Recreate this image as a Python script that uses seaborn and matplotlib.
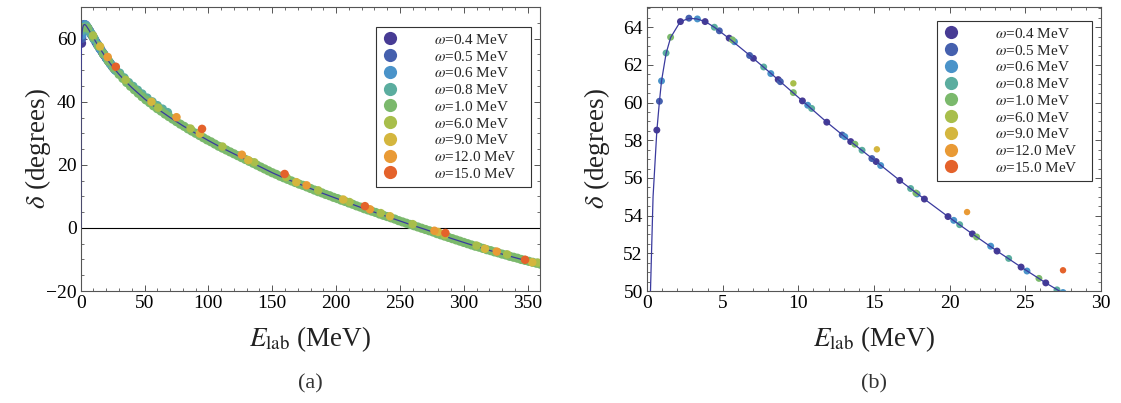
import numpy as np
import pandas as pd
import matplotlib
matplotlib.use("Agg")
import matplotlib.pyplot as plt
from matplotlib.lines import Line2D
from matplotlib.ticker import MultipleLocator
import seaborn as sns

# ---------------- data ----------------
curve_E = [0.0, 0.05, 0.1, 0.15, 0.23, 0.4, 0.65, 0.82, 0.96, 1.26, 1.56, 2.2, 2.8, 3.3,
           3.85, 4.45, 5.4, 6.8, 8.2, 10.27, 11.88, 13.46, 15.14, 16.7, 18.33, 19.89, 21.5,
           23.13, 24.72, 26.35, 27.5, 30, 35, 40, 50, 60, 70, 80, 90, 100, 110, 120, 130,
           140, 150, 160, 170, 180, 190, 200, 210, 220, 230, 240, 250, 260, 270, 280, 290,
           300, 310, 320, 330, 340, 350, 360]
curve_d = [0.0, 30.0, 38.0, 43.0, 50.0, 55.0, 58.5, 60.05, 61.15, 62.6, 63.45, 64.3, 64.47,
           64.44, 64.3, 64.0, 63.42, 62.5, 61.54, 60.09, 58.96, 57.93, 56.87, 55.87, 54.88,
           53.95, 53.03, 52.12, 51.27, 50.43, 49.88, 48.7, 46.5, 44.5, 40.9, 37.8, 35.0,
           32.4, 30.0, 27.7, 25.5, 23.5, 21.5, 19.5, 17.5, 15.7, 14.1, 12.5, 10.9, 9.4, 7.9,
           6.4, 5.0, 3.6, 2.2, 0.8, -0.5, -1.9, -3.3, -4.6, -5.9, -7.1, -8.3, -9.4, -10.5,
           -11.5]

w04_E = [0.65, 2.21, 3.84, 5.43, 7.03, 8.67, 10.27, 11.88, 13.46, 15.14, 16.7, 18.33,
         19.89, 21.5, 23.13, 24.72, 26.35]
w04_d = [58.54, 64.30, 64.30, 63.42, 62.35, 61.22, 60.09, 58.96, 57.93, 56.87, 55.87,
         54.88, 53.95, 53.03, 52.12, 51.27, 50.43]
w05_E = [0.82, 2.77, 4.78, 6.78, 8.81, 12.9, 14.86]
w05_d = [60.07, 64.48, 63.81, 62.50, 61.11, 58.28, 57.03]
w06_E = [0.96, 3.33, 5.78, 8.18, 10.62, 13.07, 15.44, 17.85, 20.27, 22.71, 25.11, 27.49]
w06_d = [61.15, 64.44, 63.23, 61.54, 59.86, 58.19, 56.66, 55.15, 53.75, 52.38, 51.06, 49.92]
w08_E = [1.26, 4.45, 7.71, 10.88, 14.21, 17.42, 20.66, 23.9, 27.09,
         30.5, 34.0, 37.5, 41.0, 44.5, 48.0, 52.0, 56.0, 60.0, 64.0, 68.0]
w08_d = [62.63, 64.0, 61.89, 59.69, 57.47, 55.44, 53.52, 51.73, 50.06,
         49.1, 47.6, 46.1, 44.9, 43.7, 42.5, 41.2, 40.0, 38.8, 37.7, 36.6]
w10_E = [1.56, 5.64, 9.67, 13.74, 17.77, 21.78, 25.9,
         30, 33, 36, 39, 42, 45, 48, 51, 54, 57, 60, 63, 66, 69, 72, 75, 78, 81, 84, 87,
         90, 93, 96, 99, 102, 105, 108, 111, 114, 117, 120, 123, 126, 129, 132, 135, 138,
         141, 144, 147, 150, 153, 156, 159, 162, 165, 168, 171, 174, 177, 180, 183, 186,
         189, 192, 195, 198, 201, 204, 207, 210, 213, 216, 219, 222, 225, 228, 231, 234,
         237, 240, 243, 246, 249, 252, 255, 258, 261, 264, 267, 270, 273, 276, 279, 282,
         285, 288, 291, 294, 297, 300, 303, 306, 309, 312, 315, 318, 321, 324, 327, 330,
         333, 336, 339, 342, 345, 348, 351, 354, 357, 360]
w10_d = [63.47, 63.33, 60.53, 57.79, 55.2, 52.87, 50.67,
         48.7, 47.4, 46.1, 44.9, 43.8, 42.7, 41.6, 40.6, 39.7, 38.7, 37.8, 37.0, 36.1,
         35.3, 34.5, 33.7, 32.9, 32.2, 31.4, 30.7, 30.0, 29.3, 28.6, 27.9, 27.3, 26.6,
         25.9, 25.3, 24.7, 24.1, 23.5, 22.9, 22.3, 21.7, 21.1, 20.5, 19.9, 19.3, 18.7,
         18.1, 17.5, 17.0, 16.4, 15.9, 15.4, 14.9, 14.4, 13.9, 13.5, 13.0, 12.5, 12.0,
         11.5, 11.1, 10.6, 10.2, 9.7, 9.3, 8.8, 8.4, 7.9, 7.5, 7.0, 6.6, 6.1, 5.7, 5.3,
         4.9, 4.4, 4.0, 3.6, 3.2, 2.8, 2.3, 1.9, 1.5, 1.1, 0.7, 0.3, -0.1, -0.5, -0.9,
         -1.3, -1.8, -2.2, -2.6, -3.0, -3.4, -3.8, -4.2, -4.6, -5.0, -5.4, -5.8, -6.1,
         -6.5, -6.9, -7.2, -7.6, -7.9, -8.3, -8.6, -9.0, -9.3, -9.6, -10.0, -10.3, -10.6,
         -10.9, -11.2, -11.5]
w60_E = [9.67, 35.2, 60.7, 86.0, 111.0, 136.0, 161.0, 186.0, 210.5, 235.0, 260.0, 285.0,
         310.0, 334.0, 358.0]
w60_d = [61.02, 46.9, 38.1, 31.5, 25.8, 20.8, 16.1, 11.9, 8.2, 4.7, 1.2, -2.3, -5.6,
         -8.4, -11.0]
w90_E = [15.19, 55.4, 93.3, 131.2, 168.9, 205.6, 242.2, 280.0, 316.6, 353.6]
w90_d = [57.52, 40.0, 29.9, 21.5, 14.5, 9.0, 3.7, -1.3, -6.6, -10.9]
w120_E = [21.15, 75.0, 126.2, 176.9, 226.5, 277.0, 325.8]
w120_d = [54.19, 35.1, 23.2, 13.5, 5.9, -0.9, -7.5]
w150_E = [27.49, 95.0, 159.7, 222.6, 285.6, 348.0]
w150_d = [51.1, 31.4, 17.1, 6.9, -1.6, -10.1]

omega_labels = ["0.4", "0.5", "0.6", "0.8", "1.0", "6.0", "9.0", "12.0", "15.0"]
series = [(w04_E, w04_d), (w05_E, w05_d), (w06_E, w06_d), (w08_E, w08_d), (w10_E, w10_d),
          (w60_E, w60_d), (w90_E, w90_d), (w120_E, w120_d), (w150_E, w150_d)]
colors = ["#473B94", "#4560AE", "#4A93C9", "#5BAD9F", "#7BB96C",
          "#A8BE4B", "#D4B63E", "#E99A35", "#E4622B"]
palette = dict(zip(omega_labels, colors))

frames = []
for lab, (E, d) in zip(omega_labels, series):
    frames.append(pd.DataFrame({"E": E, "delta": d, "omega": lab}))
df = pd.concat(frames, ignore_index=True)
curve = pd.DataFrame({"E": curve_E, "delta": curve_d})

low = ["0.4", "0.5", "0.6", "0.8", "1.0"]
high = ["6.0", "9.0", "12.0", "15.0"]

# ---------------- style ----------------
sns.set_theme(style="white")
plt.rcParams["font.family"] = ["Liberation Serif", "DejaVu Serif"]
plt.rcParams["mathtext.fontset"] = "stix"

fig = plt.figure(figsize=(11.21, 4.03), dpi=100)
H = 403.0
W = 1121.0
axa = fig.add_axes([80.7 / W, (H - 291) / H, 459.7 / W, 284.5 / H])
axb = fig.add_axes([647 / W, (H - 291) / H, 454 / W, 284.5 / H])

line_color = "#3A3A9E"

for ax, msize in ((axa, 44), (axb, 25)):
    sns.scatterplot(data=df[df.omega.isin(low)], x="E", y="delta", hue="omega",
                    hue_order=low, palette=palette, s=msize, linewidth=0,
                    legend=False, ax=ax, zorder=2)
    sns.lineplot(data=curve, x="E", y="delta", color=line_color, lw=0.9,
                 ax=ax, zorder=3, sort=False, estimator=None)
    sns.scatterplot(data=df[df.omega.isin(high)], x="E", y="delta", hue="omega",
                    hue_order=high, palette=palette, s=msize * 0.85, linewidth=0,
                    legend=False, ax=ax, zorder=4)

axa.axhline(0, color="black", lw=0.8, zorder=1)

axa.set_xlim(0, 360)
axa.set_ylim(-20, 70.2)
axa.xaxis.set_major_locator(MultipleLocator(50))
axa.xaxis.set_minor_locator(MultipleLocator(10))
axa.yaxis.set_major_locator(MultipleLocator(20))
axa.yaxis.set_minor_locator(MultipleLocator(5))

axb.set_xlim(0, 30)
axb.set_ylim(50, 65.1)
axb.xaxis.set_major_locator(MultipleLocator(5))
axb.xaxis.set_minor_locator(MultipleLocator(1))
axb.yaxis.set_major_locator(MultipleLocator(2))
axb.yaxis.set_minor_locator(MultipleLocator(0.5))

for ax, ylx in ((axa, -0.060), (axb, -0.078)):
    for sp in ax.spines.values():
        sp.set_color("#555555")
        sp.set_linewidth(0.8)
        sp.set_visible(True)
    ax.tick_params(which="both", direction="in", top=True, right=True,
                   bottom=True, left=True, color="#555555", labelsize=14,
                   labelcolor="black", pad=3)
    ax.tick_params(which="major", length=4.5, width=0.7)
    ax.tick_params(which="minor", length=2.5, width=0.6)
    ax.set_xlabel(r"$E_{\rm lab}$ (MeV)", fontsize=19.5, labelpad=9, color="#222222")
    ax.set_ylabel(r"$\delta$ (degrees)", fontsize=19.5, color="#222222")
    ax.yaxis.set_label_coords(ylx, 0.5)
    ax.grid(False)
    ax.set_facecolor("white")

handles = [Line2D([], [], marker="o", ls="", color=palette[l], markersize=9.5,
                  markeredgewidth=0) for l in omega_labels]
labels = [r"$\omega$=%s MeV" % l + "\u00a0\u00a0\u00a0" for l in omega_labels]

for ax, (xr, yt) in ((axa, (531 / W, (H - 26.7) / H)), (axb, (1091.7 / W, (H - 20.7) / H))):
    leg = ax.legend(handles, labels, loc="upper right", bbox_to_anchor=(xr, yt),
                    bbox_transform=fig.transFigure, borderaxespad=0, fontsize=11,
                    frameon=True, fancybox=False, handlelength=1.0, handletextpad=2.4,
                    labelspacing=0.18, borderpad=0.4, framealpha=1)
    leg.get_frame().set_edgecolor("#333333")
    leg.get_frame().set_linewidth(0.8)

fig.text((80.7 + 229.8) / W, (H - 384) / H, "(a)", ha="center", va="center",
         fontsize=16, color="#333333")
fig.text((647 + 227) / W, (H - 384) / H, "(b)", ha="center", va="center",
         fontsize=16, color="#333333")

fig.savefig("out.png", dpi=100, facecolor="white")
